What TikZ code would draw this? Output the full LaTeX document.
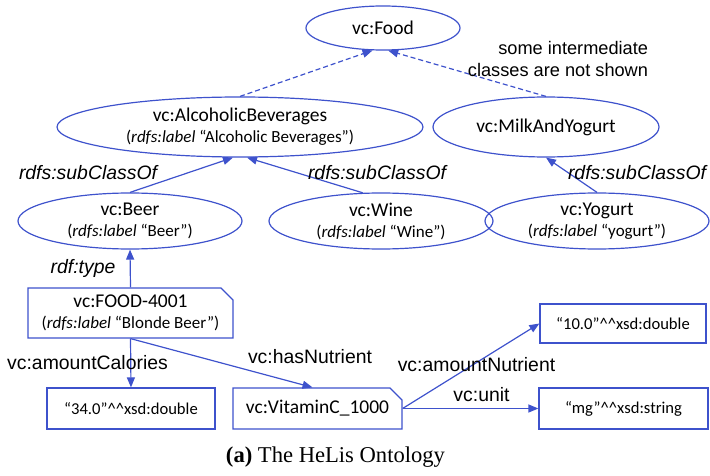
\documentclass[tikz,border=0pt]{standalone}
\usepackage{fontspec}
\setmainfont{Liberation Serif}
\setsansfont{Liberation Sans}
\newfontfamily\calibri{Carlito}
\usetikzlibrary{arrows.meta,shapes.geometric,shapes.misc}
\definecolor{ontoblue}{RGB}{62,82,204}
\newcommand{\sublabel}[1]{{\fontsize{17}{20}\selectfont(\textit{rdfs:label} “#1”)}}
\newcommand{\dcaret}{\textasciicircum\textasciicircum}
\begin{document}
\begin{tikzpicture}[x=1pt, y=-1pt,
		cls/.style={draw=ontoblue, line width=1.2pt, ellipse, inner sep=0pt, align=center,
			font=\calibri\fontsize{19.5}{21}\selectfont},
		lit/.style={draw=ontoblue, line width=1.2pt, rectangle, inner sep=0pt,
			font=\calibri\fontsize{16.6}{20}\selectfont},
		inst/.style={draw=ontoblue, line width=1.2pt, chamfered rectangle,
			chamfered rectangle corners=north east, chamfered rectangle sep=6pt,
			inner sep=0pt, align=center, font=\calibri\fontsize{19.5}{21}\selectfont},
		rel/.style={draw=ontoblue, line width=1.2pt, -{Triangle[length=10pt,width=8pt]}},
		hidden/.style={rel, dash pattern=on 5pt off 3pt},
		prop/.style={font=\sffamily\fontsize{19.4}{22}\selectfont},
		iprop/.style={prop, font=\sffamily\itshape\fontsize{19.4}{22}\selectfont}]

		\useasboundingbox (0,0) rectangle (710,476);

		% Classes
		\node[cls, minimum width=154pt, minimum height=44pt] (food) at (383,28) {vc:Food};
		\node[cls, minimum width=366pt, minimum height=60pt] (alc) at (240,127)
			{vc:AlcoholicBeverages\\\sublabel{Alcoholic Beverages}};
		\node[cls, minimum width=226pt, minimum height=60pt] (milk) at (546,127) {vc:MilkAndYogurt};
		\node[cls, minimum width=224pt, minimum height=56pt] (beer) at (130,221)
			{vc:Beer\\\sublabel{Beer}};
		\node[cls, minimum width=224pt, minimum height=56pt] (wine) at (381,221)
			{vc:Wine\\\sublabel{Wine}};
		\node[cls, minimum width=224pt, minimum height=56pt] (yogurt) at (597,221)
			{vc:Yogurt\\\sublabel{yogurt}};

		% Instances and literals
		\node[inst, minimum width=205pt, minimum height=50pt] (blonde) at (130.5,313)
			{vc:FOOD-4001\\\sublabel{Blonde Beer}};
		\node[lit, minimum width=168pt, minimum height=41pt] (cal) at (131,408.5)
			{“34.0”\dcaret xsd:double};
		\node[inst, minimum width=169pt, minimum height=41pt] (vitc) at (317.5,408.5)
			{vc:VitaminC\_1000};
		\node[lit, minimum width=166pt, minimum height=39pt] (amount) at (623,323.5)
			{“10.0”\dcaret xsd:double};
		\node[lit, minimum width=169pt, minimum height=41pt] (unit) at (623.5,408.5)
			{“mg”\dcaret xsd:string};

		% Hierarchy
		\draw[hidden] (alc.north) -- (food.245);
		\draw[hidden] (milk.north) -- (food.283);
		\draw[rel] (beer.north) -- (alc.257);
		\draw[rel] (wine.123) -- (alc.283);
		\draw[rel] (yogurt.north) -- (milk.south);
		\draw[rel] (blonde.north) -- (beer.south);

		% Properties
		\draw[rel] (blonde.south) -- (cal.north);
		\draw[rel] (blonde.south) -- ([xshift=-5pt]vitc.north);
		\draw[rel] (vitc.east) -- (amount.west);
		\draw[rel] (vitc.east) -- (unit.west);

		% Labels
		\node[iprop] (sub1) at (88,173) {rdfs:subClassOf};
		\node[iprop] (sub2) at (377,173) {rdfs:subClassOf};
		\node[iprop] (sub3) at (637,173) {rdfs:subClassOf};
		\node[iprop] (type) at (83,268) {rdf:type};
		\node[prop] (calories) at (87.5,363) {vc:amountCalories};
		\node[prop] (nutrient) at (310,357) {vc:hasNutrient};
		\node[prop] (amountn) at (476.5,365) {vc:amountNutrient};
		\node[prop] (unitl) at (481.5,395) {vc:unit};
		\node[prop, align=right, font=\sffamily\fontsize{18.2}{22}\selectfont] (note) at (558,59)
			{some intermediate\\classes are not shown};

		\node[font=\fontsize{22.6}{26}\selectfont] (caption) at (335.5,457)
			{\textbf{(a)} The HeLis Ontology};

	\end{tikzpicture}
\end{document}
